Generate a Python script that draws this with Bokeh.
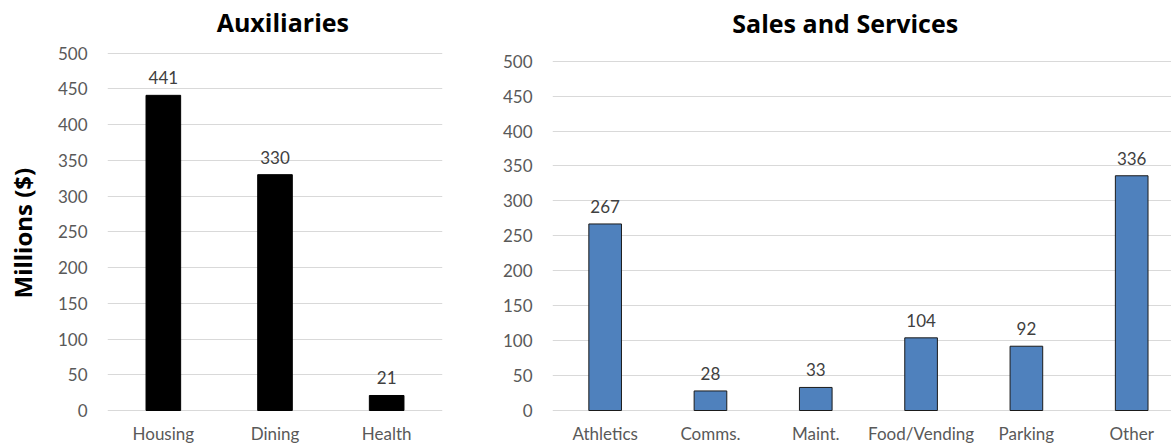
import math
from bokeh.plotting import figure
from bokeh.models import Range1d, FixedTicker, Label, LabelSet, ColumnDataSource
from bokeh.layouts import row
from bokeh.core.properties import value
from bokeh.embed import file_html
from bokeh.resources import INLINE

# ---- data ----
aux_title = "Auxiliaries"
aux_categories = ["Housing", "Dining", "Health"]
aux_values = [441, 330, 21]

sales_title = "Sales and Services"
sales_categories = ["Athletics", "Comms.", "Maint.", "Food/Vending", "Parking", "Other"]
sales_values = [267, 28, 33, 104, 92, 336]

y_ticks = [0, 50, 100, 150, 200, 250, 300, 350, 400, 450, 500]
y_axis_label = "Millions ($)"

REG_FONT = "Lato"
BOLD_FONT = "Open Sans"
TICK_COLOR = "#595959"
GRID_COLOR = "#D9D9D9"
FIG_H = 446


def make_fig(title, cats, vals, frame_w, border_left, border_right, x_end, y_lo, y_hi,
             title_x, title_y, fill, line):
    n = len(cats)
    xs = list(range(n))
    src = ColumnDataSource(dict(x=xs, top=vals, lab=[str(v) for v in vals]))
    p = figure(frame_width=frame_w, frame_height=404, output_backend="svg",
               toolbar_location=None,
               x_range=Range1d(-0.5, x_end), y_range=Range1d(y_lo, y_hi),
               min_border_left=border_left, min_border_right=border_right,
               min_border_top=8, min_border_bottom=34)
    p.outline_line_color = None
    p.background_fill_color = "white"
    p.border_fill_color = "white"

    p.vbar(x="x", top="top", bottom=0, width=0.31, source=src,
           fill_color=fill, line_color=line, line_width=1)
    p.add_layout(LabelSet(x="x", y="top", text="lab", source=src, text_align="center",
                          text_baseline="alphabetic", y_offset=11,
                          text_font=value(REG_FONT), text_font_size=value("17px"),
                          text_color=value("#404040")))

    # axes
    for ax in (p.xaxis[0], p.yaxis[0]):
        ax.axis_line_color = None
        ax.major_tick_line_color = None
        ax.minor_tick_line_color = None
        ax.major_tick_out = 0
        ax.major_tick_in = 0
        ax.minor_tick_out = 0
        ax.minor_tick_in = 0
        ax.major_label_text_font = REG_FONT
        ax.major_label_text_font_size = "17px"
        ax.major_label_text_color = TICK_COLOR

    p.xaxis.ticker = FixedTicker(ticks=xs)
    p.xaxis.major_label_overrides = {i: c for i, c in enumerate(cats)}
    p.xaxis.major_label_standoff = 10

    p.yaxis.ticker = FixedTicker(ticks=y_ticks)
    p.yaxis.major_label_standoff = 20

    p.xgrid.grid_line_color = None
    p.ygrid.ticker = FixedTicker(ticks=y_ticks)
    p.ygrid.grid_line_color = GRID_COLOR
    p.ygrid.grid_line_width = 1

    p.add_layout(Label(x=title_x, y=title_y, text=title, text_align="center",
                       text_baseline="middle", text_font=BOLD_FONT,
                       text_font_style="bold", text_font_size="25px",
                       text_color="black"))
    return p


# narrow strip that carries the shared y-axis title
lab_w = 40
ylab = figure(width=lab_w, height=FIG_H, output_backend="svg", toolbar_location=None,
              x_range=Range1d(0, lab_w), y_range=Range1d(0, FIG_H), min_border=0)
ylab.axis.visible = False
ylab.grid.visible = False
ylab.outline_line_color = None
ylab.text(x=[22], y=[FIG_H - 248], text=[y_axis_label], angle=math.pi / 2,
          text_align="center", text_baseline="middle", text_font=value(BOLD_FONT),
          text_font_style="bold", text_font_size="24px", text_color="black")

left = make_fig(aux_title, aux_categories, aux_values, frame_w=335, border_left=107 - lab_w,
                border_right=8, x_end=2.5, y_lo=-2.8, y_hi=562.5,
                title_x=1.07, title_y=544, fill="#000000", line="#000000")

right = make_fig(sales_title, sales_categories, sales_values, frame_w=619, border_left=102,
                 border_right=0, x_end=5.378, y_lo=-2.86, y_hi=575.4,
                 title_x=2.28, title_y=554, fill="#4F81BD", line="#1b1b1b")

layout = row(ylab, left, right)
open("out.html", "w").write(file_html(layout, INLINE))
